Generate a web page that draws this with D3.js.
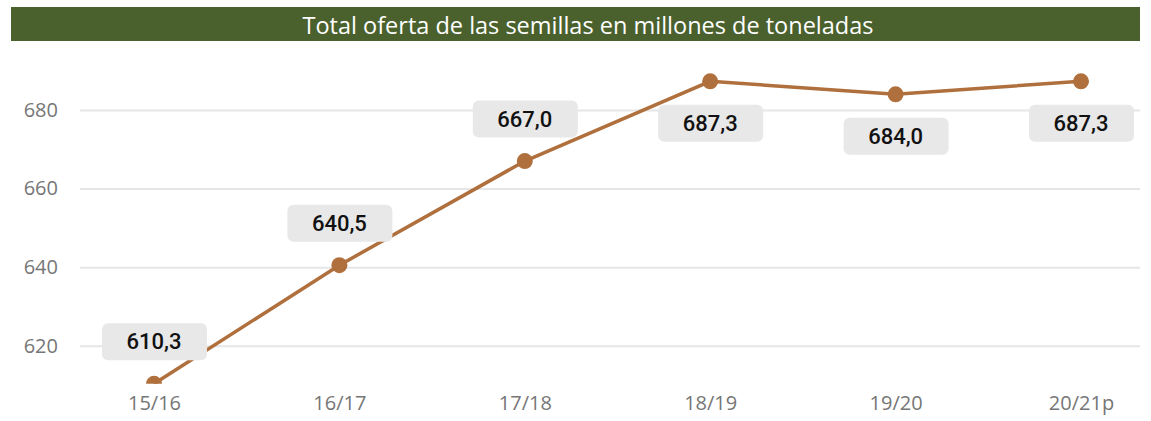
<!DOCTYPE html>
<html>
<head>
<meta charset="utf-8">
<script src="https://cdn.jsdelivr.net/npm/d3@7"></script>
<style>
  body { margin: 0; background: #fff; }
  svg { display: block; }
</style>
</head>
<body>
<svg id="chart" width="1151" height="421"></svg>
<script>
const campaigns = ["15/16", "16/17", "17/18", "18/19", "19/20", "20/21p"];
const supply = [610.3, 640.5, 667.0, 687.3, 684.0, 687.3];
const labelSide = ["up", "up", "up", "down", "down", "down"];
const yTicks = [620, 640, 660, 680];
const title = "Total oferta de las semillas en millones de toneladas";

const svg = d3.select("#chart");

// title band
svg.append("rect")
  .attr("x", 11).attr("y", 7).attr("width", 1129).attr("height", 34)
  .attr("fill", "#4a612e");
svg.append("text")
  .attr("x", 588).attr("y", 25)
  .attr("text-anchor", "middle").attr("dominant-baseline", "central")
  .attr("fill", "#fff")
  .style("font-family", "'Open Sans', 'Noto Sans', sans-serif")
  .style("font-size", "23.5px")
  .text(title);

const x = d3.scalePoint().domain(campaigns).range([154, 1081]);
const y = d3.scaleLinear().domain([620, 680]).range([345.7, 110]);

// gridlines + y labels
const yAxis = svg.append("g")
  .attr("transform", "translate(80,0)")
  .call(d3.axisLeft(y).tickValues(yTicks).tickSize(-1060).tickPadding(22).tickFormat(d3.format("d")));
yAxis.select(".domain").remove();
yAxis.selectAll(".tick line").attr("stroke", "#e6e6e6").attr("stroke-width", 2);
yAxis.selectAll(".tick text")
  .attr("fill", "#767676")
  .style("font-family", "'Open Sans', 'Noto Sans', sans-serif")
  .style("font-size", "20px");

// x labels
const xAxis = svg.append("g")
  .attr("transform", "translate(0,396)")
  .call(d3.axisBottom(x).tickSize(0).tickPadding(0));
xAxis.select(".domain").remove();
xAxis.selectAll(".tick text")
  .attr("dy", "0.71em")
  .attr("fill", "#767676")
  .style("font-family", "'Open Sans', 'Noto Sans', sans-serif")
  .style("font-size", "20px");

svg.append("clipPath").attr("id", "plotclip")
  .append("rect").attr("x", 0).attr("y", 45).attr("width", 1151).attr("height", y(610.3) - 45);

const plot = svg.append("g").attr("clip-path", "url(#plotclip)");

const line = d3.line()
  .x((d, i) => x(campaigns[i]))
  .y(d => y(d));

plot.append("path")
  .datum(supply)
  .attr("d", line)
  .attr("fill", "none")
  .attr("stroke", "#b0703d")
  .attr("stroke-width", 3.5);

plot.selectAll("circle")
  .data(supply)
  .join("circle")
  .attr("cx", (d, i) => x(campaigns[i]))
  .attr("cy", d => y(d))
  .attr("r", 8)
  .attr("fill", "#b0703d");

// value labels
const fmt = d => d.toFixed(1).replace(".", ",");
const lbl = svg.selectAll("g.lbl")
  .data(supply)
  .join("g")
  .attr("class", "lbl")
  .attr("transform", (d, i) => `translate(${x(campaigns[i])},${y(d) + (labelSide[i] === "up" ? -42 : 42)})`);
lbl.append("rect")
  .attr("x", -52).attr("y", -18.5).attr("width", 105).attr("height", 37)
  .attr("rx", 6)
  .attr("fill", "#e8e8e8");
lbl.append("text")
  .attr("text-anchor", "middle").attr("dominant-baseline", "central")
  .attr("fill", "#111")
  .style("font-family", "'Roboto', sans-serif")
  .style("font-weight", "500")
  .style("font-size", "22px")
  .text(fmt);
</script>
</body>
</html>
